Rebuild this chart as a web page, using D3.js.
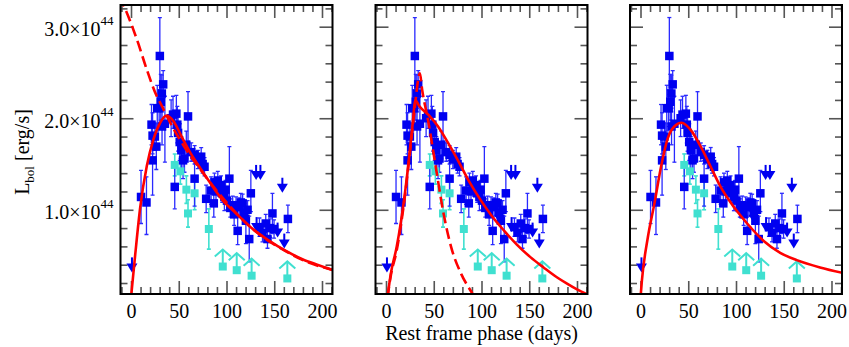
<!DOCTYPE html>
<html><head><meta charset="utf-8">
<script src="https://cdn.jsdelivr.net/npm/d3@7"></script>
<style>body{margin:0;background:#fff}svg{display:block}</style>
</head><body>
<svg id="chart" width="849" height="347"></svg>
<script>
// ---- data: [phase (days), L (1e44 erg/s), err low, err high]
const detections = [
 [10.5,1.14,0.29,0.29],[16.2,1.08,0.35,0.28],[21.5,1.93,0.22,0.22],[22.6,1.81,0.20,0.25],
 [22.6,1.54,0.38,0.20],[25.0,1.80,0.15,0.15],[26.5,1.69,0.25,0.25],[27.5,2.11,0.25,0.25],
 [29.5,2.11,0.20,0.20],[30.2,2.68,0.42,0.42],[31.2,2.18,0.20,0.30],[32.3,2.27,0.20,0.20],
 [33.7,2.37,0.15,0.15],[32.5,1.91,0.20,0.20],[35.5,1.94,0.42,0.30],[42.0,2.00,0.20,0.20],
 [44.0,2.04,0.15,0.20],[45.8,1.25,0.24,0.22],[47.5,2.05,0.20,0.20],[48.5,1.93,0.20,0.20],
 [49.3,1.84,0.20,0.20],[51.0,1.74,0.20,0.20],[52.7,1.65,0.20,0.15],[54.5,1.54,0.20,0.15],
 [56.0,1.56,0.15,0.15],[57.9,1.71,0.15,0.15],[59.7,2.02,0.27,0.27],[63.1,1.63,0.10,0.10],
 [66.6,1.60,0.10,0.10],[66.6,1.34,0.30,0.20],[70.0,1.55,0.10,0.10],[73.5,1.58,0.10,0.10],
 [75.0,1.50,0.10,0.10],[77.0,1.47,0.10,0.10],[78.7,1.12,0.15,0.15],[83.9,1.21,0.15,0.15],
 [86.7,1.07,0.15,0.15],[87.4,1.30,0.10,0.10],[89.0,1.20,0.10,0.10],[90.9,1.32,0.10,0.10],
 [92.0,1.25,0.10,0.10],[94.3,1.27,0.10,0.10],[95.5,1.18,0.10,0.10],[97.8,1.14,0.15,0.10],
 [99.0,1.22,0.10,0.10],[100.5,1.10,0.10,0.10],[103.0,1.34,0.30,0.35],[104.0,1.02,0.10,0.10],
 [106.5,1.05,0.10,0.10],[108.0,0.95,0.12,0.10],[110.0,1.04,0.10,0.10],[111.7,0.77,0.15,0.15],
 [113.4,1.03,0.10,0.10],[115.0,1.08,0.10,0.10],[116.9,1.07,0.10,0.10],[118.6,0.97,0.10,0.10],
 [120.3,0.88,0.25,0.15],[122.0,1.00,0.10,0.10],[123.8,0.68,0.25,0.25],[125.5,1.18,0.20,0.25],
 [134.5,0.81,0.10,0.10],[137.7,0.75,0.10,0.10],[141.1,0.85,0.10,0.10],[142.9,0.68,0.10,0.10],
 [145.5,0.80,0.10,0.10],[148.1,0.96,0.22,0.22],[149.8,0.79,0.10,0.10],[164.3,0.90,0.15,0.15]
];
// upper limits [phase, L]
const upperLimits = [[1.0,0.48],[119,1.01],[131.0,1.49],[135.5,1.49],[131.5,0.92],[153.5,0.86],[158.5,1.35],[160.5,0.74]];
// second dataset (turquoise) [phase, L, err]
const hostDetections = [[45.8,1.49,0.12],[51.7,1.42,0.14],[58.0,1.22,0.15],[59.7,0.96,0.15],[66.6,1.18,0.18],[81.5,0.79,0.22]];
const hostLowerLimits = [[96.1,0.38],[110.7,0.34],[126.3,0.28],[163.7,0.25]];

// model curves [phase, L]
const panel1Solid = [[0,0.04],[4.5,0.52],[9.7,1.03],[16.6,1.48],[23.5,1.77],[30.5,1.95],[37,2.03],[44.3,1.97],[53,1.80],[61.7,1.63],[70.3,1.49],[82.5,1.30],[96.3,1.10],[110.2,0.96],[127.5,0.79],[144.9,0.66],[162.2,0.55],[179.5,0.46],[195,0.40],[212,0.34]];
const panel1Dashed = [[-12,3.33],[-5.9,3.19],[6.2,2.86],[16.6,2.53],[27,2.24],[30.5,2.17],[44.3,1.89],[58.2,1.65],[72,1.45],[85,1.27],[100,1.08],[120,0.86],[140,0.69],[160,0.56],[180,0.45],[212,0.34]];
const panel2Solid = [[1.5,0.04],[5,0.30],[11.1,0.59],[19.8,1.18],[25,1.65],[28.5,2.0],[30.5,2.2],[35,2.13],[45,2.03],[54.5,1.91],[65,1.73],[75.3,1.54],[87,1.31],[99.5,1.10],[111,0.93],[123.8,0.77],[137,0.62],[151.5,0.48],[165,0.37],[179.3,0.26],[190,0.19],[200,0.13],[212,0.07]];
const panel2Dashed = [[1.5,0.04],[5,0.28],[11.1,0.55],[19.8,1.15],[25,1.62],[30,2.1],[33.7,2.42],[35.4,2.49],[38,2.3],[44,1.98],[52.7,1.43],[59.7,0.99],[68.3,0.59],[78.7,0.30],[89,0.11],[93,0.04]];
const panel3Solid = [[0,0.04],[1.4,0.22],[7.7,0.70],[14.6,1.07],[21.5,1.47],[28.5,1.78],[35.4,1.91],[43,1.95],[52.7,1.87],[63.1,1.69],[73.5,1.47],[83.9,1.25],[97.8,1.03],[111.7,0.85],[129,0.66],[146.3,0.53],[163.7,0.45],[188,0.37],[212,0.31]];

const xMajorTicks = [0,50,100,150,200];
const yMajorTicks = [1,2,3];
const yTickLabels = ["1.0","2.0","3.0"];
const yExponent = "44";
const xTitle = "Rest frame phase (days)";

// ---- layout
const svg = d3.select("#chart");
const W = 212, TOP = 5, BOTTOM = 294;
const FONT = "'Liberation Serif','Times New Roman',serif";
const x = d3.scaleLinear().domain([-11, 211]).range([0, W]);
const y = d3.scaleLinear().domain([0.08, 3.237]).range([BOTTOM, TOP]);
const xMinor = d3.range(-10, 211, 10);
const yMinor = d3.range(0.2, 3.21, 0.2).map(v => +v.toFixed(1));

const panels = [
  {left:120.5, curves:[{d:panel1Solid},{d:panel1Dashed,dash:"11,5"}], labels:true},
  {left:375.5, curves:[{d:panel2Solid},{d:panel2Dashed,dash:"11,5"}], labels:false},
  {left:630,   curves:[{d:panel3Solid}], labels:false}
];
const BLUE = "#0000f0", EBLUE = "#2a2aff", CYAN = "#40e0d0", RED = "#ff0000", TICK = "#555";
const SQ = 8.5, SQC = 8;

const line = d3.line().x(d => x(d[0])).y(d => y(d[1])).curve(d3.curveMonotoneX);

panels.forEach((p, i) => {
  const g = svg.append("g").attr("transform", `translate(${p.left},0)`);
  const cid = "clip" + i;
  g.append("clipPath").attr("id", cid).append("rect")
    .attr("x", 0).attr("y", TOP).attr("width", W).attr("height", BOTTOM - TOP);

  const styleAxis = sel => { sel.select(".domain").remove(); sel.selectAll("line").attr("stroke", TICK).attr("stroke-width", 1.6); };
  const xMin = xMinor.filter(v => v % 50 !== 0);
  const yMin = yMinor.filter(v => !yMajorTicks.includes(v));
  g.append("g").attr("transform", `translate(0,${BOTTOM})`)
    .call(d3.axisBottom(x).tickValues(xMin).tickSize(-7).tickFormat(""))
    .call(styleAxis);
  g.append("g").attr("transform", `translate(0,${BOTTOM})`)
    .call(d3.axisBottom(x).tickValues(xMajorTicks).tickSize(-13).tickPadding(9.5).tickFormat(d3.format("d")))
    .call(styleAxis)
    .call(s => s.selectAll("text").attr("font-family", FONT).attr("font-size", 20).attr("fill", "#000"));
  g.append("g").attr("transform", `translate(0,${TOP})`)
    .call(d3.axisTop(x).tickValues(xMin).tickSize(-7).tickFormat(""))
    .call(styleAxis);
  g.append("g").attr("transform", `translate(0,${TOP})`)
    .call(d3.axisTop(x).tickValues(xMajorTicks).tickSize(-13).tickFormat(""))
    .call(styleAxis);
  g.append("g")
    .call(d3.axisLeft(y).tickValues(yMin).tickSize(-7).tickFormat(""))
    .call(styleAxis);
  g.append("g")
    .call(d3.axisLeft(y).tickValues(yMajorTicks).tickSize(-13).tickFormat(""))
    .call(styleAxis);
  g.append("g").attr("transform", `translate(${W},0)`)
    .call(d3.axisRight(y).tickValues(yMin).tickSize(-7).tickFormat(""))
    .call(styleAxis);
  g.append("g").attr("transform", `translate(${W},0)`)
    .call(d3.axisRight(y).tickValues(yMajorTicks).tickSize(-13).tickFormat(""))
    .call(styleAxis);

  const plot = g.append("g").attr("clip-path", `url(#${cid})`);

  hostDetections.forEach(d => {
    const cx = x(d[0]);
    plot.append("line").attr("x1", cx).attr("x2", cx).attr("y1", y(d[1]-d[2])).attr("y2", y(d[1]+d[2]))
      .attr("stroke", CYAN).attr("stroke-width", 1.6);
    [d[1]-d[2], d[1]+d[2]].forEach(v => plot.append("line").attr("x1", cx-2).attr("x2", cx+2)
      .attr("y1", y(v)).attr("y2", y(v)).attr("stroke", CYAN).attr("stroke-width", 1.6));
  });
  detections.forEach(d => {
    const cx = x(d[0]);
    plot.append("line").attr("x1", cx).attr("x2", cx).attr("y1", y(d[1]-d[2])).attr("y2", y(d[1]+d[3]))
      .attr("stroke", EBLUE).attr("stroke-width", 1.3);
    [d[1]-d[2], d[1]+d[3]].forEach(v => plot.append("line").attr("x1", cx-2).attr("x2", cx+2)
      .attr("y1", y(v)).attr("y2", y(v)).attr("stroke", EBLUE).attr("stroke-width", 1.3));
  });
  hostDetections.forEach(d => {
    plot.append("rect").attr("x", x(d[0])-SQC/2).attr("y", y(d[1])-SQC/2).attr("width", SQC).attr("height", SQC).attr("fill", CYAN);
  });
  hostLowerLimits.forEach(d => {
    const cx = x(d[0]), cy = y(d[1]);
    plot.append("rect").attr("x", cx-SQC/2).attr("y", cy-SQC/2).attr("width", SQC).attr("height", SQC).attr("fill", CYAN);
    plot.append("line").attr("x1", cx).attr("x2", cx).attr("y1", cy-3).attr("y2", cy-17)
      .attr("stroke", CYAN).attr("stroke-width", 2);
    plot.append("path").attr("d", `M${cx-8},${cy-10}L${cx},${cy-17}L${cx+8},${cy-10}`)
      .attr("fill", "none").attr("stroke", CYAN).attr("stroke-width", 2);
  });
  detections.forEach(d => {
    plot.append("rect").attr("x", x(d[0])-SQ/2).attr("y", y(d[1])-SQ/2).attr("width", SQ).attr("height", SQ).attr("fill", BLUE);
  });
  upperLimits.forEach(d => {
    const cx = x(d[0]), cy = y(d[1]);
    plot.append("rect").attr("x", cx-1).attr("y", cy).attr("width", 2).attr("height", 8).attr("fill", BLUE);
    plot.append("path").attr("d", `M${cx-5.5},${cy+6}L${cx+5.5},${cy+6}L${cx},${cy+15}Z`).attr("fill", BLUE);
  });
  p.curves.forEach(c => {
    plot.append("path").attr("d", line(c.d)).attr("fill", "none").attr("stroke", RED)
      .attr("stroke-width", 2.6).attr("stroke-dasharray", c.dash || null);
  });

  g.append("rect").attr("x", 0).attr("y", TOP).attr("width", W).attr("height", BOTTOM - TOP)
    .attr("fill", "none").attr("stroke", "#000").attr("stroke-width", 2);

  if (p.labels) {
    yMajorTicks.forEach((v, k) => {
      const t = g.append("text").attr("x", -7).attr("y", y(v) + 9.5).attr("text-anchor", "end")
        .attr("font-family", FONT).attr("font-size", 20).attr("fill", "#000");
      t.append("tspan").text(yTickLabels[k] + "\u00d710");
      t.append("tspan").attr("font-size", 13).attr("dy", -11.5).text(yExponent);
    });
  }
});

const yt = svg.append("text").attr("transform", "translate(29,152) rotate(-90)").attr("text-anchor", "middle")
  .attr("font-family", FONT).attr("font-size", 20).attr("fill", "#000");
yt.append("tspan").text("L");
yt.append("tspan").attr("font-size", 13).attr("dy", 5).text("bol");
yt.append("tspan").attr("dy", -5).text(" [erg/s]");

svg.append("text").attr("x", 481.5).attr("y", 340).attr("text-anchor", "middle")
  .attr("font-family", FONT).attr("font-size", 20).attr("fill", "#000").text(xTitle);
</script>
</body></html>
